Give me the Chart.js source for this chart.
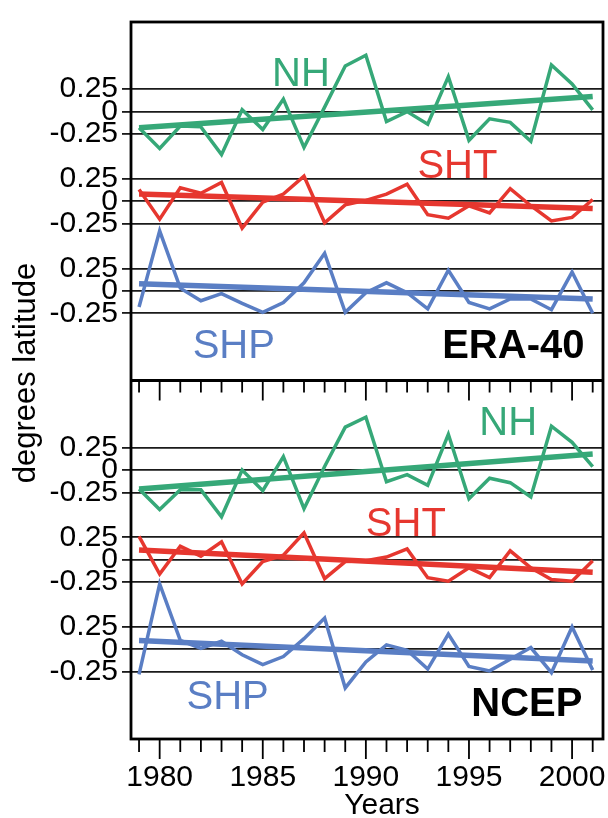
<!DOCTYPE html>
<html>
<head>
<meta charset="utf-8">
<script src="https://cdn.jsdelivr.net/npm/chart.js@4.4.1/dist/chart.umd.min.js"></script>
<style>
  html, body { margin: 0; padding: 0; background: #fff; }
  canvas { display: block; }
</style>
</head>
<body>
<canvas id="lat-chart" width="608" height="818"></canvas>
<script>
// --- DATA (degrees latitude anomalies) ---
const years = [1979, 1980, 1981, 1982, 1983, 1984, 1985, 1986, 1987, 1988, 1989, 1990,
               1991, 1992, 1993, 1994, 1995, 1996, 1997, 1998, 1999, 2000, 2001];

const eraNH  = [-0.18, -0.41, -0.16, -0.17, -0.48, 0.02, -0.20, 0.14, -0.40, 0.05, 0.51, 0.63,
                -0.11, 0.00, -0.14, 0.39, -0.32, -0.08, -0.12, -0.33, 0.52, 0.31, 0.02];
const eraSHT = [0.13, -0.20, 0.15, 0.09, 0.21, -0.30, -0.01, 0.08, 0.28, -0.24, -0.04, 0.01,
                0.08, 0.19, -0.15, -0.19, -0.05, -0.13, 0.14, -0.05, -0.22, -0.18, 0.02];
const eraSHP = [-0.18, 0.67, 0.03, -0.11, -0.03, -0.14, -0.24, -0.13, 0.09, 0.42, -0.24, -0.02,
                0.09, -0.02, -0.20, 0.23, -0.13, -0.20, -0.09, -0.09, -0.21, 0.21, -0.25];

const ncepNH  = [-0.21, -0.44, -0.22, -0.22, -0.52, 0.00, -0.23, 0.15, -0.43, 0.04, 0.48, 0.59,
                 -0.13, -0.05, -0.17, 0.40, -0.32, -0.09, -0.14, -0.30, 0.49, 0.31, 0.04];
const ncepSHT = [0.26, -0.16, 0.15, 0.04, 0.20, -0.27, -0.02, 0.05, 0.30, -0.21, -0.02, -0.01,
                 0.03, 0.12, -0.20, -0.24, -0.09, -0.20, 0.10, -0.09, -0.22, -0.24, -0.01];
const ncepSHP = [-0.28, 0.73, 0.10, 0.01, 0.09, -0.06, -0.17, -0.08, 0.12, 0.35, -0.43, -0.14,
                 0.05, -0.01, -0.22, 0.17, -0.19, -0.24, -0.11, 0.02, -0.26, 0.25, -0.23];

// linear trend end points (1979, 2001)
const eraTrendNH   = [-0.18, 0.17];
const eraTrendSHT  = [0.08, -0.08];
const eraTrendSHP  = [0.08, -0.09];
const ncepTrendNH  = [-0.21, 0.18];
const ncepTrendSHT = [0.11, -0.14];
const ncepTrendSHP = [0.10, -0.13];

const yTickLabels = [-0.25, 0, 0.25];
const xTickLabels = [1980, 1985, 1990, 1995, 2000];

// --- LAYOUT: each curve is shifted onto its own band of one shared y axis ---
const ERA_BASE = 4;   // top panel occupies 3..7
const NCEP_BASE = 0;  // bottom panel occupies -1..3
const OFFSET = { NH: 2, SHT: 1, SHP: 0 };

const GREEN = '#36a878';
const RED = '#e6372f';
const BLUE = '#5a7ec4';
const FONT = "'Liberation Sans', Arial, sans-serif";

Chart.defaults.font.family = FONT;
Chart.defaults.color = '#000';

function series(values, shift) {
    return years.map((yr, i) => ({ x: yr, y: values[i] + shift }));
}

function trend(ends, shift) {
    return [
        { x: years[0], y: ends[0] + shift },
        { x: years[years.length - 1], y: ends[1] + shift }
    ];
}

function lineSet(data, color, width) {
    return {
        data: data,
        borderColor: color,
        backgroundColor: color,
        borderWidth: width,
        pointRadius: 0,
        tension: 0,
        fill: false
    };
}

const datasets = [
    lineSet(series(eraNH, ERA_BASE + OFFSET.NH), GREEN, 3.5),
    lineSet(series(eraSHT, ERA_BASE + OFFSET.SHT), RED, 3.5),
    lineSet(series(eraSHP, ERA_BASE + OFFSET.SHP), BLUE, 3.5),
    lineSet(trend(eraTrendNH, ERA_BASE + OFFSET.NH), GREEN, 5.5),
    lineSet(trend(eraTrendSHT, ERA_BASE + OFFSET.SHT), RED, 5.5),
    lineSet(trend(eraTrendSHP, ERA_BASE + OFFSET.SHP), BLUE, 5.5),
    lineSet(series(ncepNH, NCEP_BASE + OFFSET.NH), GREEN, 3.5),
    lineSet(series(ncepSHT, NCEP_BASE + OFFSET.SHT), RED, 3.5),
    lineSet(series(ncepSHP, NCEP_BASE + OFFSET.SHP), BLUE, 3.5),
    lineSet(trend(ncepTrendNH, NCEP_BASE + OFFSET.NH), GREEN, 5.5),
    lineSet(trend(ncepTrendSHT, NCEP_BASE + OFFSET.SHT), RED, 5.5),
    lineSet(trend(ncepTrendSHP, NCEP_BASE + OFFSET.SHP), BLUE, 5.5)
];

// y tick values: three labels per curve band, in both panels
const yTickValues = [];
[NCEP_BASE, ERA_BASE].forEach(base => {
    Object.values(OFFSET).forEach(off => {
        yTickLabels.forEach(v => yTickValues.push(base + off + v));
    });
});

// panel annotations: [text, year, y value, colour, bold, align]
const panelLabels = [
    ['NH', 1985.45, ERA_BASE + 2.29, GREEN, false, 'left'],
    ['SHT', 1992.5, ERA_BASE + 1.26, RED, false, 'left'],
    ['SHP', 1981.6, ERA_BASE - 0.75, BLUE, false, 'left'],
    ['ERA-40', 2000.6, ERA_BASE - 0.75, '#000', true, 'right'],
    ['NH', 1995.5, NCEP_BASE + 2.39, GREEN, false, 'left'],
    ['SHT', 1990.0, NCEP_BASE + 1.27, RED, false, 'left'],
    ['SHP', 1981.3, NCEP_BASE - 0.66, BLUE, false, 'left'],
    ['NCEP', 2000.5, NCEP_BASE - 0.74, '#000', true, 'right']
];

// frame, year ticks and text that Chart.js has no option for
const framePlugin = {
    id: 'framePlugin',
    afterDraw(chart) {
        const ctx = chart.ctx;
        const area = chart.chartArea;
        const xs = chart.scales.x;
        const ys = chart.scales.y;
        const sep = ys.getPixelForValue(3);

        ctx.save();
        ctx.strokeStyle = '#000';

        // year ticks below the plot and under the panel divider
        ctx.lineWidth = 1.8;
        years.forEach(yr => {
            const px = xs.getPixelForValue(yr);
            const major = yr % 5 === 0;
            ctx.beginPath();
            ctx.moveTo(px, area.bottom);
            ctx.lineTo(px, area.bottom + (major ? 20 : 13));
            ctx.moveTo(px, sep);
            ctx.lineTo(px, sep + (major ? 20 : 12));
            ctx.stroke();
        });

        // panel frames
        ctx.lineWidth = 2.8;
        ctx.strokeRect(area.left, area.top, area.right - area.left, area.bottom - area.top);
        ctx.beginPath();
        ctx.moveTo(area.left, sep);
        ctx.lineTo(area.right, sep);
        ctx.stroke();

        // curve names and data-set names
        ctx.textBaseline = 'alphabetic';
        panelLabels.forEach(([text, yr, val, color, bold, align]) => {
            ctx.font = (bold ? 'bold ' : '') + '40px ' + FONT;
            ctx.fillStyle = color;
            ctx.textAlign = align;
            ctx.fillText(text, xs.getPixelForValue(yr), ys.getPixelForValue(val));
        });

        // axis titles
        ctx.fillStyle = '#000';
        ctx.font = '30px ' + FONT;
        ctx.textAlign = 'center';
        ctx.fillText('Years', 382, 814);

        ctx.translate(35, 373);
        ctx.rotate(-Math.PI / 2);
        ctx.font = '31px ' + FONT;
        ctx.fillText('degrees latitude', 0, 0);
        ctx.restore();
    }
};

new Chart(document.getElementById('lat-chart'), {
    type: 'line',
    data: { datasets: datasets },
    options: {
        responsive: false,
        animation: false,
        layout: { padding: { top: 8, right: 5, bottom: 0, left: 0 } },
        plugins: {
            legend: { display: false },
            tooltip: { enabled: false }
        },
        scales: {
            x: {
                type: 'linear',
                position: 'bottom',
                min: 1978.61,
                max: 2001.5,
                afterBuildTicks: axis => {
                    axis.ticks = xTickLabels.map(v => ({ value: v }));
                },
                afterFit: axis => { axis.height = 79; },
                grid: {
                    drawOnChartArea: false,
                    drawTicks: true,
                    tickLength: 20,
                    color: 'rgba(0,0,0,0)'
                },
                border: { display: false },
                ticks: {
                    autoSkip: false,
                    maxRotation: 0,
                    padding: 1,
                    font: { size: 30 },
                    color: '#000',
                    callback: v => String(v)
                }
            },
            y: {
                type: 'linear',
                min: -1,
                max: 7,
                afterBuildTicks: axis => {
                    axis.ticks = yTickValues.map(v => ({ value: v }));
                },
                afterFit: axis => { axis.width = 131; },
                grid: {
                    color: '#1a1a1a',
                    lineWidth: 1.8,
                    tickLength: 9
                },
                border: { display: false },
                ticks: {
                    autoSkip: false,
                    padding: 4,
                    font: { size: 30 },
                    color: '#000',
                    callback: v => String(Math.round((v - Math.round(v)) * 100) / 100)
                }
            }
        }
    },
    plugins: [framePlugin]
});
</script>
</body>
</html>
